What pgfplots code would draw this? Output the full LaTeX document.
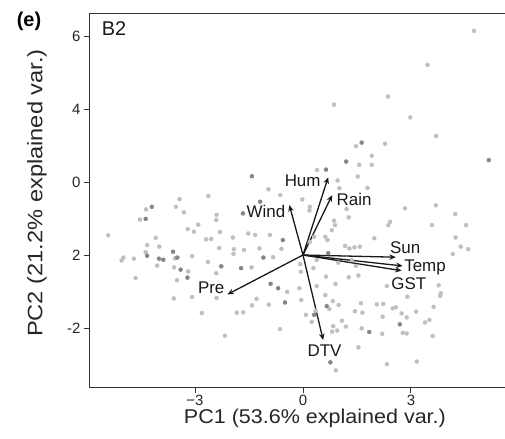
\documentclass[border=0pt]{standalone}
\usepackage{fontspec}
\setmainfont{Liberation Sans}
\usepackage{pgfplots}
\usepackage{pgfplotstable}
\pgfplotsset{compat=1.18}
\usetikzlibrary{arrows.meta}

\pgfplotstableread{
x y
-2.63 1.62
-3.43 1.53
-4.36 1.25
-3.53 1.32
-3.31 1.17
-4.53 0.97
-2.40 1.10
-2.41 0.96
-2.91 0.83
-3.20 0.71
-3.03 0.64
-2.31 0.63
-5.41 0.54
-4.09 0.47
-2.69 0.43
-2.55 0.44
-4.33 0.27
-3.99 0.23
-2.33 0.19
-4.37 0.08
-3.08 -0.03
-3.56 -0.09
-4.99 -0.07
-5.04 -0.15
-4.70 -0.10
-2.64 -0.19
-4.05 -0.29
-3.58 -0.34
-3.19 -0.45
-2.41 -0.50
-4.65 -0.63
-3.50 -0.69
-3.08 -1.15
-3.59 -1.19
-2.40 -1.18
-2.81 -1.59
-2.17 -2.21
4.75 6.14
3.46 5.21
2.36 4.34
0.86 4.12
2.98 3.77
3.70 3.26
1.47 2.98
2.28 3.05
1.91 2.72
1.56 2.47
1.91 2.47
0.39 2.33
0.96 2.04
1.52 2.15
1.79 1.84
-0.96 1.80
-0.63 1.64
-0.02 1.52
0.19 1.32
0.18 1.22
1.21 1.26
3.69 1.36
4.23 1.12
1.27 1.03
1.01 1.83
0.86 0.94
0.89 0.82
0.80 0.68
2.42 0.91
2.37 0.82
2.83 1.28
3.58 0.82
4.53 0.82
4.24 0.48
4.38 0.23
4.59 0.16
4.16 0.03
-0.92 0.55
-1.33 0.55
-1.95 0.48
-1.52 0.59
-1.64 0.14
-1.92 0.16
-1.93 0.03
-1.21 0.18
-0.60 0.17
-0.83 -0.06
0.19 0.36
0.31 0.50
0.62 0.50
0.68 0.41
1.17 0.25
1.29 0.18
1.43 0.21
1.58 0.23
1.98 0.46
0.98 -0.21
1.36 -0.14
1.47 -0.30
1.54 -0.56
0.38 -0.14
-0.08 -0.25
-0.06 -0.46
0.29 -0.36
0.64 -0.59
0.90 -0.79
1.27 -0.61
2.33 -0.85
2.90 -1.14
3.77 -0.83
3.83 -1.05
3.81 -1.12
3.63 -1.42
2.74 -1.60
-1.43 -0.34
-0.44 -1.01
-0.10 -0.91
-0.05 -1.23
0.38 -0.85
0.62 -1.10
0.83 -1.26
0.99 -1.37
0.35 -1.53
0.08 -1.64
0.24 -1.83
1.08 -1.80
1.44 -1.54
2.05 -1.35
2.23 -1.34
1.61 -1.32
1.65 -1.58
2.49 -1.46
2.88 -1.71
3.51 -1.78
-1.29 -1.20
-1.42 -1.38
-1.66 -1.57
-1.84 -1.58
-0.95 -1.36
-0.64 -2.03
0.84 -1.95
0.95 -2.07
0.81 -2.10
1.63 -2.01
2.20 -2.16
3.39 -1.85
2.88 -2.15
3.60 -2.22
0.73 -1.48
2.58 -1.43
3.14 -1.55
2.21 -1.69
1.19 -1.96
2.77 -2.13
1.54 -2.53
0.91 -3.16
2.33 -2.99
3.16 -2.92
}\lightpts

\pgfplotstableread{
x y
-4.20 1.32
-4.37 0.99
-3.61 0.09
-4.33 -0.02
-3.49 -0.07
-4.00 -0.10
-3.88 -0.13
-2.27 -0.31
-3.40 -0.40
-3.21 -0.62
1.63 3.08
5.16 2.60
1.20 2.56
0.64 2.34
-1.42 2.16
-1.19 1.46
-1.67 1.14
-0.56 0.41
-1.10 -0.07
0.70 0.05
-1.72 -0.36
-0.90 -0.79
-0.69 -0.91
0.66 -1.40
2.69 -1.90
-0.50 -1.30
0.31 -1.64
1.84 -2.11
0.76 -2.94
}\darkpts

\begin{document}
\begin{tikzpicture}
\begin{axis}[
  at={(0,0)}, anchor=south west,
  scale only axis, width=422bp, height=373bp,
  xmin=-5.917, xmax=5.806, ymin=-3.616, ymax=6.603,
  axis line style={black!80, line width=1bp},
  tick pos=left, tick align=outside, major tick length=6bp,
  tick style={black!80, line width=1bp},
  xtick={-3,0,3}, xticklabels={−3,0,3},
  ytick={-2,0,2,4,6}, yticklabels={-2,2,0,4,6},
  ticklabel style={font=\fontsize{15}{15}\selectfont, text=black!85},
  xticklabel style={inner sep=1bp, yshift=-1bp},
  xlabel={\scalebox{1.08}[1]{\fontsize{20}{20}\selectfont PC1 (53.6\% explained var.)}},
  xlabel style={at={(axis description cs:0.533,-0.0845)}, anchor=center, inner sep=0pt, text=black!85},
  ylabel={\scalebox{1.13}[1]{\fontsize{21}{21}\selectfont PC2 (21.2\% explained var.)}},
  ylabel style={at={(axis description cs:-0.1256,0.52)}, anchor=center, inner sep=0pt, text=black!85},
]
\addplot[only marks, mark=*, mark size=2bp, color=black!25] table {\lightpts};
\addplot[only marks, mark=*, mark size=2bp, color=black!48] table {\darkpts};

\addplot[black!90, line width=1.3bp, -{Stealth[length=6.5bp,width=5.5bp]}] coordinates {(0,0) (0.70,2.13)};
\addplot[black!90, line width=1.3bp, -{Stealth[length=6.5bp,width=5.5bp]}] coordinates {(0,0) (0.81,1.64)};
\addplot[black!90, line width=1.3bp, -{Stealth[length=6.5bp,width=5.5bp]}] coordinates {(0,0) (-0.38,1.37)};
\addplot[black!90, line width=1.3bp, -{Stealth[length=6.5bp,width=5.5bp]}] coordinates {(0,0) (2.58,-0.06)};
\addplot[black!90, line width=1.3bp, -{Stealth[length=6.5bp,width=5.5bp]}] coordinates {(0,0) (2.77,-0.30)};
\addplot[black!90, line width=1.3bp, -{Stealth[length=6.5bp,width=5.5bp]}] coordinates {(0,0) (2.74,-0.43)};
\addplot[black!90, line width=1.3bp, -{Stealth[length=6.5bp,width=5.5bp]}] coordinates {(0,0) (-2.10,-1.08)};
\addplot[black!90, line width=1.3bp, -{Stealth[length=6.5bp,width=5.5bp]}] coordinates {(0,0) (0.56,-2.33)};

\begin{scope}[every node/.style={font=\fontsize{17}{17}\selectfont, text=black!90, inner sep=0pt}]
\node at (axis cs:-0.01,2.04) {Hum};
\node at (axis cs:1.42,1.53) {Rain};
\node at (axis cs:-1.03,1.19) {Wind};
\node at (axis cs:2.84,0.21) {Sun};
\node at (axis cs:3.39,-0.34) {Temp};
\node at (axis cs:2.94,-0.79) {GST};
\node at (axis cs:-2.55,-0.91) {Pre};
\node at (axis cs:0.60,-2.62) {DTV};
\end{scope}
\node[font=\fontsize{20}{20}\selectfont, text=black!90, inner sep=0pt] at (axis description cs:0.0569,0.9598) {B2};
\end{axis}
\node[font=\bfseries\fontsize{20}{20}\selectfont, inner sep=0pt] at (-61bp,366bp) {(e)};
\pgfresetboundingbox
\useasboundingbox (-90bp,-52bp) rectangle (415bp,387bp);
\end{tikzpicture}
\end{document}
